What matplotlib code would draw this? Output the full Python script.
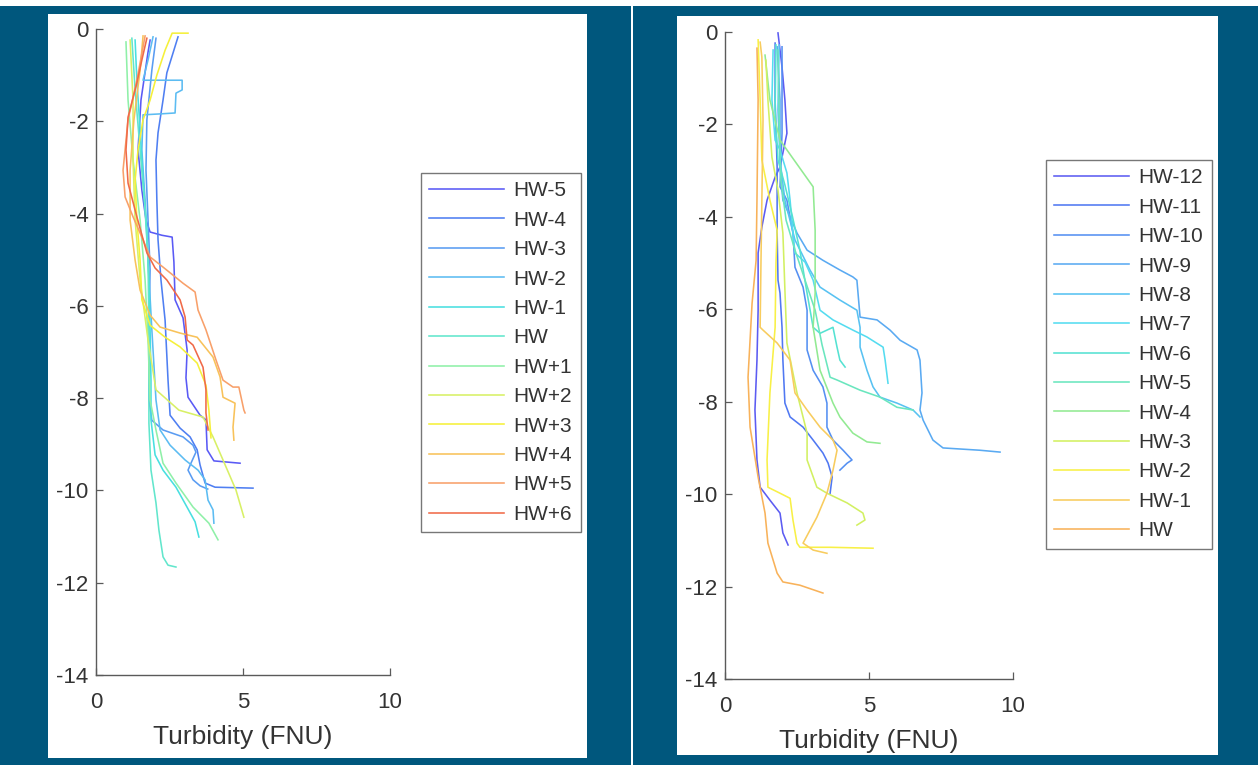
import matplotlib
matplotlib.use("Agg")
import matplotlib.pyplot as plt
from matplotlib.patches import Rectangle

plt.rcParams['font.family'] = ['Liberation Sans', 'DejaVu Sans']
plt.rcParams['axes.unicode_minus'] = False

# ---------------- Panel A: HW-5 ... HW+6 ----------------
a_labels = ["HW-5", "HW-4", "HW-3", "HW-2", "HW-1", "HW",
            "HW+1", "HW+2", "HW+3", "HW+4", "HW+5", "HW+6"]
a_colors = ["#5a5af5", "#4f7ff2", "#5a9cf2", "#5cbcf2", "#48dfe0", "#62e6cc",
            "#8ff0a8", "#d8f066", "#f5f03a", "#f8c25a", "#f8a06a", "#f06a48"]

a_hw_m5_turb = [1.84, 1.77, 1.53, 1.43, 1.56, 1.70, 1.84, 2.24, 2.59, 2.65, 2.69, 2.96, 3.10, 3.06, 3.13, 3.54, 3.74, 3.78, 4.01, 4.90]
a_hw_m5_depth = [-0.24, -0.50, -1.54, -2.62, -3.49, -4.14, -4.40, -4.47, -4.51, -5.05, -5.87, -6.26, -6.96, -7.56, -7.98, -8.37, -8.47, -9.12, -9.36, -9.41]

a_hw_m4_turb = [2.79, 2.62, 2.41, 2.28, 2.11, 2.04, 2.07, 2.11, 2.21, 2.35, 2.45, 2.52, 2.86, 3.20, 3.44, 3.54, 3.71, 4.05, 5.34]
a_hw_m4_depth = [-0.17, -0.52, -0.95, -1.54, -2.25, -2.84, -3.71, -4.57, -5.44, -6.31, -7.61, -8.37, -8.65, -8.84, -9.12, -9.45, -9.84, -9.93, -9.95]

a_hw_m3_turb = [2.04, 1.90, 1.73, 1.70, 1.77, 1.84, 1.80, 1.80, 1.90, 2.28, 2.96, 3.30, 3.40, 3.23, 3.13, 3.30, 3.54, 3.80]
a_hw_m3_depth = [-0.20, -0.89, -1.97, -3.06, -4.14, -5.22, -6.52, -8.04, -8.48, -8.69, -8.84, -9.02, -9.17, -9.41, -9.56, -9.77, -9.90, -9.97]

a_hw_m2_turb = [1.94, 1.77, 1.60, 2.35, 2.93, 2.93, 2.72, 2.69, 2.18, 1.60, 1.56, 1.67, 1.77, 1.90, 2.04, 2.18, 2.52, 3.03, 3.47, 3.71, 3.81, 3.98, 4.01]
a_hw_m2_depth = [-0.17, -0.67, -1.11, -1.11, -1.11, -1.32, -1.39, -1.82, -1.84, -1.86, -2.62, -3.71, -5.01, -6.52, -8.04, -8.69, -9.02, -9.34, -9.56, -9.77, -10.21, -10.42, -10.71]

a_hw_m1_turb = [1.33, 1.39, 1.50, 1.60, 1.73, 1.80, 1.84, 1.87, 1.87, 2.01, 2.28, 2.72, 3.06, 3.37, 3.50]
a_hw_m1_depth = [-0.24, -1.11, -2.19, -3.27, -4.36, -5.44, -6.52, -7.61, -8.47, -9.23, -9.56, -9.93, -10.32, -10.68, -11.01]

a_hw_0_turb = [1.22, 1.33, 1.50, 1.67, 1.77, 1.80, 1.80, 1.80, 1.87, 2.04, 2.14, 2.28, 2.45, 2.72]
a_hw_0_depth = [-0.20, -1.32, -2.62, -3.92, -5.01, -6.52, -8.04, -8.54, -9.56, -10.27, -10.86, -11.44, -11.62, -11.66]

a_hw_p1_turb = [1.02, 1.09, 1.26, 1.50, 1.67, 1.77, 1.84, 2.04, 2.28, 2.72, 3.30, 3.84, 4.15]
a_hw_p1_depth = [-0.28, -1.54, -2.84, -4.14, -5.44, -6.74, -8.04, -8.69, -9.41, -9.84, -10.36, -10.71, -11.07]

a_hw_p2_turb = [1.16, 1.26, 1.26, 1.33, 1.50, 1.77, 2.04, 2.82, 3.64, 3.98, 4.32, 4.76, 5.03]
a_hw_p2_depth = [-0.24, -1.54, -2.84, -4.14, -5.44, -6.74, -7.82, -8.26, -8.41, -8.84, -9.34, -9.99, -10.58]

a_hw_p3_turb = [3.13, 2.59, 2.35, 2.07, 1.84, 1.60, 1.43, 1.33, 1.39, 1.50, 1.56, 1.84, 2.35, 2.86, 3.44, 3.74, 3.84, 3.91]
a_hw_p3_depth = [-0.09, -0.09, -0.46, -1.00, -1.54, -1.97, -2.62, -3.27, -4.14, -5.01, -5.87, -6.42, -6.68, -6.89, -7.24, -7.72, -8.26, -8.86]

a_hw_p4_turb = [1.60, 1.50, 1.29, 1.16, 1.16, 1.33, 1.50, 1.84, 2.18, 2.86, 3.44, 3.98, 4.22, 4.32, 4.73, 4.66, 4.69]
a_hw_p4_depth = [-0.15, -0.89, -1.97, -3.06, -4.14, -5.01, -5.66, -6.20, -6.46, -6.59, -6.68, -7.11, -7.54, -7.98, -8.11, -8.63, -8.91]

a_hw_p5_turb = [1.67, 1.39, 1.09, 0.92, 0.99, 1.26, 1.60, 1.84, 2.28, 2.96, 3.37, 3.47, 3.74, 4.08, 4.32, 4.66, 4.86, 5.03, 5.07]
a_hw_p5_depth = [-0.15, -1.11, -1.97, -3.06, -3.64, -4.07, -4.57, -4.94, -5.16, -5.51, -5.70, -6.09, -6.52, -7.17, -7.61, -7.76, -7.76, -8.26, -8.32]

a_hw_p6_turb = [1.73, 1.56, 1.39, 1.09, 1.02, 1.09, 1.39, 1.73, 2.01, 2.41, 2.86, 3.03, 3.10, 3.30, 3.64, 3.74, 3.74, 3.81]
a_hw_p6_depth = [-0.20, -0.67, -1.17, -1.91, -2.62, -3.34, -4.07, -4.85, -5.18, -5.44, -5.87, -6.24, -6.74, -6.85, -7.33, -7.82, -8.32, -8.69]

a_turb = [a_hw_m5_turb, a_hw_m4_turb, a_hw_m3_turb, a_hw_m2_turb, a_hw_m1_turb, a_hw_0_turb,
          a_hw_p1_turb, a_hw_p2_turb, a_hw_p3_turb, a_hw_p4_turb, a_hw_p5_turb, a_hw_p6_turb]
a_depth = [a_hw_m5_depth, a_hw_m4_depth, a_hw_m3_depth, a_hw_m2_depth, a_hw_m1_depth, a_hw_0_depth,
           a_hw_p1_depth, a_hw_p2_depth, a_hw_p3_depth, a_hw_p4_depth, a_hw_p5_depth, a_hw_p6_depth]

# ---------------- Panel B: HW-12 ... HW ----------------
b_labels = ["HW-12", "HW-11", "HW-10", "HW-9", "HW-8", "HW-7", "HW-6",
            "HW-5", "HW-4", "HW-3", "HW-2", "HW-1", "HW"]
b_colors = ["#5c5cf2", "#5078f2", "#5590f2", "#5aaaf2", "#58c2f2", "#55dcf0", "#55e2d2",
            "#6ae6be", "#92ea92", "#d2f062", "#f8f046", "#f8cc5e", "#f8b25a"]

b_hw_m12_turb = [1.84, 1.91, 1.98, 2.08, 2.15, 1.91, 1.74, 1.46, 1.28, 1.15, 1.15, 1.15, 1.11, 1.04, 1.11, 1.22, 1.56, 1.91, 2.01, 2.19]
b_hw_m12_depth = [-0.02, -0.39, -0.76, -1.47, -2.19, -2.92, -3.14, -3.64, -4.22, -4.78, -5.37, -6.02, -7.10, -8.18, -9.26, -9.85, -10.13, -10.41, -10.84, -11.10]

b_hw_m11_turb = [1.74, 1.74, 1.81, 1.81, 1.84, 1.91, 1.98, 2.01, 2.08, 2.26, 2.71, 3.06, 3.40, 3.58, 3.72, 3.65]
b_hw_m11_depth = [-0.24, -1.47, -2.92, -4.35, -5.37, -5.65, -6.39, -7.10, -8.03, -8.33, -8.55, -8.83, -9.11, -9.33, -9.63, -9.98]

b_hw_m10_turb = [1.98, 1.98, 1.91, 2.15, 2.36, 2.43, 2.71, 2.85, 2.85, 3.06, 3.40, 3.54, 3.54, 3.75, 4.10, 4.41, 4.24, 3.99]
b_hw_m10_depth = [-0.32, -2.19, -3.35, -3.64, -4.35, -5.09, -5.52, -6.02, -6.88, -7.32, -7.68, -8.03, -8.55, -8.83, -9.05, -9.26, -9.33, -9.48]

b_hw_m9_turb = [1.81, 1.91, 1.91, 2.01, 2.26, 2.50, 2.85, 3.40, 3.99, 4.44, 4.58, 4.69, 5.28, 5.73, 6.08, 6.67, 6.77, 6.84, 6.77, 6.88, 7.22, 7.57, 8.85, 9.55]
b_hw_m9_depth = [-0.32, -1.47, -2.92, -3.64, -4.00, -4.35, -4.72, -4.94, -5.15, -5.30, -5.37, -6.17, -6.23, -6.45, -6.67, -6.88, -7.10, -7.81, -8.18, -8.40, -8.83, -9.00, -9.05, -9.09]

b_hw_m8_turb = [1.88, 1.84, 1.91, 2.08, 2.43, 2.95, 3.30, 3.99, 4.58, 4.69, 4.69, 4.93, 5.14, 5.38, 5.97, 6.53, 6.77]
b_hw_m8_depth = [-0.28, -1.69, -2.77, -3.64, -4.50, -5.15, -5.52, -5.80, -6.02, -6.39, -6.82, -7.32, -7.68, -7.90, -8.03, -8.18, -8.33]

b_hw_m7_turb = [1.67, 1.63, 1.74, 1.91, 2.15, 2.26, 2.36, 2.43, 2.78, 3.06, 3.30, 3.75, 4.44, 4.93, 5.49, 5.56, 5.66]
b_hw_m7_depth = [-0.39, -1.47, -2.34, -2.55, -3.05, -3.64, -4.35, -4.78, -4.98, -5.37, -6.02, -6.23, -6.45, -6.60, -6.82, -7.10, -7.60]

b_hw_m6_turb = [1.77, 1.74, 1.84, 2.08, 2.33, 2.60, 2.85, 3.06, 3.30, 3.75, 3.89, 3.99, 4.17]
b_hw_m6_depth = [-0.28, -1.69, -2.77, -3.31, -3.96, -4.72, -5.65, -6.39, -6.52, -6.39, -6.82, -7.10, -7.25]

b_hw_m5_turb = [1.84, 1.88, 1.94, 2.12, 2.43, 2.78, 3.13, 3.37, 3.65, 3.89, 4.69, 5.38, 5.97, 6.53]
b_hw_m5_depth = [-0.39, -1.90, -3.20, -4.07, -4.72, -5.37, -6.02, -6.77, -7.47, -7.53, -7.75, -7.90, -8.12, -8.18]

b_hw_m4_turb = [1.39, 1.56, 1.91, 2.33, 3.06, 3.13, 3.13, 3.13, 3.06, 3.30, 3.75, 3.99, 4.44, 4.93, 5.38]
b_hw_m4_depth = [-0.50, -1.47, -2.34, -2.71, -3.35, -4.29, -4.94, -5.65, -6.39, -7.32, -8.03, -8.33, -8.68, -8.87, -8.90]

b_hw_m3_turb = [1.42, 1.49, 1.63, 1.84, 2.01, 2.05, 2.08, 2.15, 2.50, 2.85, 2.85, 3.19, 3.54, 4.24, 4.79, 4.86, 4.58]
b_hw_m3_depth = [-0.61, -1.47, -2.71, -3.42, -4.35, -5.04, -5.58, -6.73, -7.81, -8.68, -9.26, -9.85, -9.98, -10.19, -10.41, -10.56, -10.67]

b_hw_m2_turb = [1.15, 1.22, 1.28, 1.56, 1.81, 1.77, 1.74, 1.56, 1.46, 1.49, 1.91, 2.26, 2.36, 2.50, 2.60, 3.65, 5.14]
b_hw_m2_depth = [-0.17, -1.47, -2.77, -3.64, -4.29, -5.00, -6.39, -7.81, -9.26, -9.85, -9.98, -10.09, -10.56, -11.06, -11.15, -11.15, -11.17]

b_hw_m1_turb = [1.22, 1.28, 1.32, 1.28, 1.25, 1.22, 1.32, 1.81, 2.26, 2.43, 2.85, 3.30, 3.75, 3.89, 3.75, 3.54, 3.19, 2.71, 3.06, 3.54]
b_hw_m1_depth = [-0.22, -0.54, -1.90, -3.64, -4.94, -6.39, -6.45, -6.73, -7.10, -7.81, -8.18, -8.55, -8.83, -9.05, -9.48, -9.98, -10.50, -11.06, -11.21, -11.28]

b_hw_0_turb = [1.11, 1.15, 1.11, 1.08, 0.94, 0.80, 0.87, 1.15, 1.39, 1.49, 1.81, 2.01, 2.60, 3.40]
b_hw_0_depth = [-0.35, -1.47, -3.64, -4.94, -5.87, -7.47, -8.55, -9.63, -10.41, -11.06, -11.71, -11.90, -11.97, -12.14]

b_turb = [b_hw_m12_turb, b_hw_m11_turb, b_hw_m10_turb, b_hw_m9_turb, b_hw_m8_turb, b_hw_m7_turb,
          b_hw_m6_turb, b_hw_m5_turb, b_hw_m4_turb, b_hw_m3_turb, b_hw_m2_turb, b_hw_m1_turb, b_hw_0_turb]
b_depth = [b_hw_m12_depth, b_hw_m11_depth, b_hw_m10_depth, b_hw_m9_depth, b_hw_m8_depth, b_hw_m7_depth,
           b_hw_m6_depth, b_hw_m5_depth, b_hw_m4_depth, b_hw_m3_depth, b_hw_m2_depth, b_hw_m1_depth, b_hw_0_depth]

x_ticks = [0, 5, 10]
y_ticks = [-14, -12, -10, -8, -6, -4, -2, 0]
x_label = "Turbidity (FNU)"

# ---------------- figure ----------------
W, H = 1258, 765
BG = "#00577d"
TXT = "#333333"
fig = plt.figure(figsize=(W / 100, H / 100), dpi=100, facecolor=BG)


def fbox(x0, y0, x1, y1):
    """Pixel box (top-left origin) to figure fractions."""
    return (x0 / W, 1 - y1 / H, (x1 - x0) / W, (y1 - y0) / H)


# white sheets behind the two panels, plus the thin top strip and divider
for box in [(0, 0, W, 6), (631, 0, 633, H), (48, 14, 587, 758), (677, 16, 1218, 755)]:
    l, b, w, h = fbox(*box)
    fig.patches.append(Rectangle((l, b), w, h, transform=fig.transFigure,
                                 facecolor="white", edgecolor="none", zorder=-5))


def panel(rect, turbs, depths, labels, colors, leg_anchor):
    ax = fig.add_axes(fbox(*rect))
    ax.set_zorder(1)
    ax.patch.set_alpha(0)
    for t, d, lab, c in zip(turbs, depths, labels, colors):
        ax.plot(t, d, color=c, lw=1.15, label=lab, solid_joinstyle="round")
    ax.set_xlim(0, 10)
    ax.set_ylim(-14, 0)
    ax.set_xticks(x_ticks)
    ax.set_yticks(y_ticks)
    for s in ("top", "right"):
        ax.spines[s].set_visible(False)
    for s in ("left", "bottom"):
        ax.spines[s].set_color("#5a5a5a")
        ax.spines[s].set_linewidth(1.0)
    ax.tick_params(direction="in", length=5, width=0.9, color="#5a5a5a",
                   labelsize=16, labelcolor=TXT)
    ax.tick_params(axis="y", pad=5.5)
    ax.tick_params(axis="x", pad=12)
    ax.set_xlabel(x_label, fontsize=19, color=TXT, labelpad=9)
    leg = ax.legend(loc="upper left", bbox_to_anchor=(leg_anchor[0] / W, 1 - leg_anchor[1] / H),
                    bbox_transform=fig.transFigure, borderaxespad=0, fontsize=15,
                    frameon=True, fancybox=False, shadow=False, framealpha=1,
                    edgecolor="#777777", handlelength=3.6, handletextpad=0.45,
                    borderpad=0.4, labelspacing=0.5)
    leg.get_frame().set_linewidth(1.0)
    for txt in leg.get_texts():
        txt.set_color(TXT)
    return ax


panel((96, 29, 390, 675), a_turb, a_depth, a_labels, a_colors, (421, 173))
panel((725, 32, 1013, 679), b_turb, b_depth, b_labels, b_colors, (1046, 160))

fig.savefig("out.png", dpi=100, facecolor=BG)
